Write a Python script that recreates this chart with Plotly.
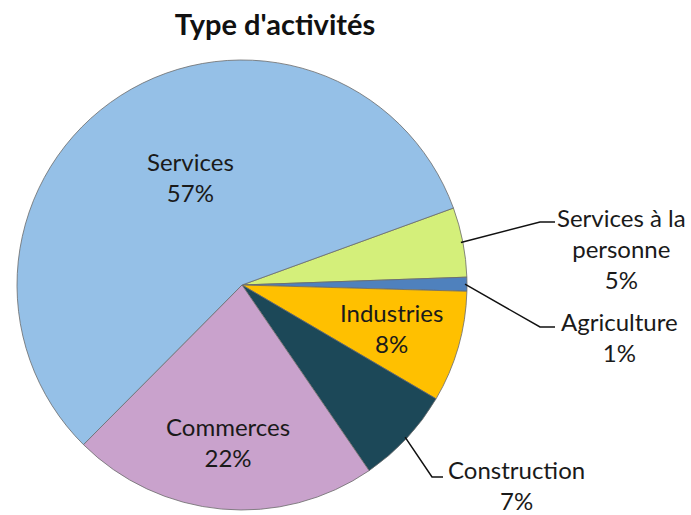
import math
import plotly.graph_objects as go

# ── Data ─────────────────────────────────────────────────────────────────────
labels = ["Services à la personne", "Agriculture", "Industries",
          "Construction", "Commerces", "Services"]
text_labels = ["Services à la<br>personne", "Agriculture", "Industries",
               "Construction", "Commerces", "Services"]
values = [5, 1, 8, 7, 22, 57]
colors = ["#D4EF7A", "#4F81BD", "#FFC000", "#1C4858", "#C9A2CC", "#95C0E7"]

W, H = 691, 515
CX, CY, R = 242, 285, 225          # pie centre / radius in pixels
ROTATION = 70                      # first slice starts here (deg clockwise from 12h)
FONT = "Lato, 'Open Sans', sans-serif"

fig = go.Figure(go.Pie(
    labels=labels, values=values, sort=False,
    direction="clockwise", rotation=ROTATION,
    marker=dict(colors=colors, line=dict(color="#6b6b6b", width=0.8)),
    textinfo="none", hoverinfo="label+percent",
    domain=dict(x=[(CX - R) / W, (CX + R) / W],
                y=[1 - (CY + R) / H, 1 - (CY - R) / H]),
))


def px2paper(x, y):
    return x / W, 1 - y / H


def point(angle_deg, rad):
    a = math.radians(angle_deg)
    return CX + rad * math.sin(a), CY - rad * math.cos(a)


# label placement: inside (angle offset, radius fraction) or outside (elbow, text pos)
inside = {"Industries": (0, 0.69), "Commerces": (0, 0.70), "Services": (7, 0.53)}
outside = {
    "Services à la personne": ((540, 222), (555, 222), (621, 248)),
    "Agriculture": ((540, 327), (555, 327), (619, 337)),
    "Construction": ((432, 477), (443, 477), (516, 485)),
}

total = sum(values)
cum = 0
annotations = []
shapes = []
for lab, txt, v in zip(labels, text_labels, values):
    mid = ROTATION + (cum + v / 2) / total * 360
    cum += v
    pct = f"{round(v / total * 100)}%"
    if lab in inside:
        da, fr = inside[lab]
        tx, ty = point(mid + da, R * fr)
    else:
        sx, sy = point(mid, R - 2)
        (ex, ey), (hx, hy), (tx, ty) = outside[lab]
        p = [px2paper(sx, sy), px2paper(ex, ey), px2paper(hx, hy)]
        path = "M {} {} L {} {} L {} {}".format(*[c for pt in p for c in pt])
        shapes.append(dict(type="path", path=path, xref="paper", yref="paper",
                           line=dict(color="#111111", width=1.5)))
    xp, yp = px2paper(tx, ty)
    annotations.append(dict(x=xp, y=yp, xref="paper", yref="paper",
                            xanchor="center", yanchor="middle",
                            text=f"{txt}<br>{pct}", showarrow=False,
                            font=dict(size=24, color="#1a1a1a", family=FONT)))

fig.update_layout(
    width=W, height=H,
    margin=dict(l=0, r=0, t=0, b=0),
    showlegend=False,
    paper_bgcolor="white",
    title=dict(text="<b>Type d'activités</b>", x=275 / W, xanchor="center",
               y=1 - 25 / H, yanchor="middle",
               font=dict(size=29, color="#111111", family=FONT)),
    annotations=annotations,
    shapes=shapes,
)

fig.write_html("out.html",
               config={"displayModeBar": False},
               post_script="document.body.style.margin='0';"
                           "document.body.style.overflow='hidden';")
